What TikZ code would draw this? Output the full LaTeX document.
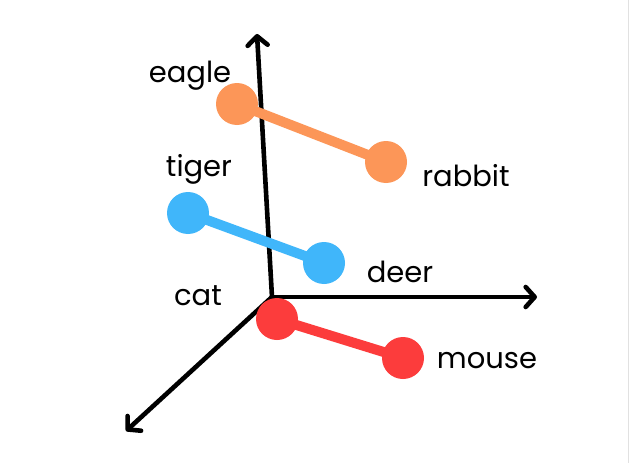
\documentclass[tikz,border=0pt]{standalone}
\usepackage{fontspec}
\setmainfont{Poppins}
\usetikzlibrary{arrows.meta}
\definecolor{cOrange}{RGB}{252,150,88}
\definecolor{cBlue}{RGB}{64,182,250}
\definecolor{cRed}{RGB}{252,60,60}
\definecolor{cEdge}{RGB}{225,225,225}
\begin{document}
\begin{tikzpicture}[x=1pt,y=-1pt,
  axis/.style={line width=4.6pt, line cap=round, line join=round,
    -{Straight Barb[length=9pt,width=20pt,line cap=round,line join=round]}},
  dot/.style={circle, fill=#1, minimum size=42pt, inner sep=0pt},
  bar/.style={line width=10pt, draw=#1},
  lbl/.style={font=\fontsize{29}{29}\selectfont, text=black, inner sep=0pt}]
\useasboundingbox (0,0) rectangle (630,463);
\fill[white] (0,0) rectangle (630,463);
\draw[cEdge, line width=1pt] (628.5,0) -- (628.5,463);
% axes
\coordinate (o) at (272,297);
\coordinate (ytip) at (257,34);
\coordinate (xtip) at (537,297);
\coordinate (ztip) at (126,431);
\draw[axis] (o) -- (ytip);
\draw[axis] (o) -- (xtip);
\draw[axis] (o) -- (ztip);
% dots
\node[dot=cOrange] (eagle) at (237,104) {};
\node[dot=cOrange] (rabbit) at (386,162) {};
\node[dot=cBlue] (tiger) at (188,213) {};
\node[dot=cBlue] (deer) at (324,263) {};
\node[dot=cRed] (cat) at (277,319) {};
\node[dot=cRed] (mouse) at (403,358) {};
\draw[bar=cOrange] (eagle.center) -- (rabbit.center);
\draw[bar=cBlue] (tiger.center) -- (deer.center);
\draw[bar=cRed] (cat.center) -- (mouse.center);
% labels
\node[lbl] (leagle) at (190,76) {eagle};
\node[lbl] (lrabbit) at (466,176) {rabbit};
\node[lbl] (ltiger) at (199,169) {tiger};
\node[lbl] (ldeer) at (400,272) {deer};
\node[lbl] (lcat) at (198,296) {cat};
\node[lbl] (lmouse) at (487,361) {mouse};
\end{tikzpicture}
\end{document}
